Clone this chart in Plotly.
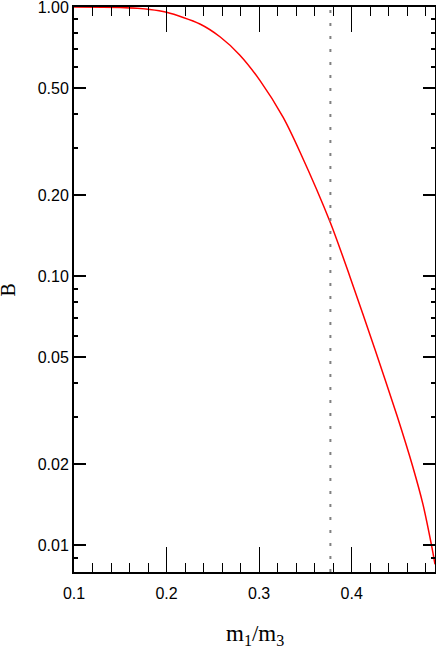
import plotly.graph_objects as go
import numpy as np

# Data
ratio = [0.10, 0.15, 0.182, 0.20, 0.236, 0.258, 0.279, 0.301, 0.326, 0.344, 0.377,
         0.398, 0.425, 0.449, 0.466, 0.477, 0.486, 0.49]
B = [1.0, 0.996, 0.980, 0.956, 0.865, 0.774, 0.664, 0.533, 0.389, 0.290, 0.158,
     0.0998, 0.0536, 0.0303, 0.0196, 0.0142, 0.0101, 0.0085]
marker_ratio = 0.377

x_major = [0.1, 0.2, 0.3, 0.4]
x_major_labels = ["0.1", "0.2", "0.3", "0.4"]
x_minor = [0.12, 0.14, 0.16, 0.18, 0.22, 0.24, 0.26, 0.28, 0.32, 0.34, 0.36, 0.38,
           0.42, 0.44, 0.46, 0.48]
y_major = [1.0, 0.5, 0.2, 0.1, 0.05, 0.02, 0.01]
y_major_labels = ["1.00", "0.50", "0.20", "0.10", "0.05", "0.02", "0.01"]
y_minor = [0.9, 0.8, 0.7, 0.6, 0.4, 0.3, 0.09, 0.08, 0.07, 0.06, 0.04, 0.03, 0.009, 0.008]

x_range = [0.1, 0.49]
y_range = [0.00796, 1.0005]

tick_font = dict(family="Liberation Sans Narrow, Arial Narrow, Liberation Sans, sans-serif",
                 size=16, color="black")

fig = go.Figure()
fig.add_trace(go.Scatter(x=ratio, y=B, mode="lines",
                         line=dict(color="red", width=1.5, shape="spline", smoothing=0.8),
                         showlegend=False))
fig.add_shape(type="line", x0=marker_ratio, x1=marker_ratio, xref="x", y0=0, y1=1, yref="paper",
              line=dict(color="#808080", width=2, dash="3px,10px"))

fig.update_layout(
    width=436, height=654,
    margin=dict(l=74, r=1, t=7, b=82, autoexpand=False),
    paper_bgcolor="white", plot_bgcolor="white",
    xaxis=dict(range=x_range, tickvals=x_major, ticktext=x_major_labels, ticks="inside",
               ticklen=25, tickwidth=1, tickcolor="black", mirror="ticks", showline=True,
               linecolor="black", linewidth=2, showgrid=False, zeroline=False,
               tickfont=tick_font, automargin=False, ticklabeloverflow="allow",
               ticklabelstandoff=6,
               minor=dict(tickvals=x_minor, ticks="inside", ticklen=9, tickwidth=1, tickcolor="black",
                          showgrid=False)),
    yaxis=dict(type="log", range=[np.log10(y_range[0]), np.log10(y_range[1])],
               tickvals=y_major, ticktext=y_major_labels, ticks="inside",
               ticklen=12, tickwidth=2, tickcolor="black", mirror="ticks", showline=True,
               linecolor="black", linewidth=2, showgrid=False, zeroline=False,
               tickfont=tick_font, automargin=False, ticklabeloverflow="allow",
               minor=dict(tickvals=y_minor, ticks="inside", ticklen=4, tickwidth=2, tickcolor="black",
                          showgrid=False)),
)

fig.add_annotation(text="B", xref="paper", yref="paper", x=-0.183, y=0.5, showarrow=False,
                   textangle=-90, font=dict(family="Liberation Serif, serif", size=20, color="black"),
                   xanchor="center", yanchor="middle")
fig.add_annotation(text="m<sub>1</sub>/m<sub>3</sub>", xref="paper", yref="paper", x=0.5, y=0,
                   yshift=-47, showarrow=False,
                   font=dict(family="Liberation Serif, serif", size=23, color="black"),
                   xanchor="center", yanchor="top")

fig.write_html("out.html", config={"displayModeBar": False},
               post_script="document.body.style.margin='0px';document.body.style.overflow='hidden';")
